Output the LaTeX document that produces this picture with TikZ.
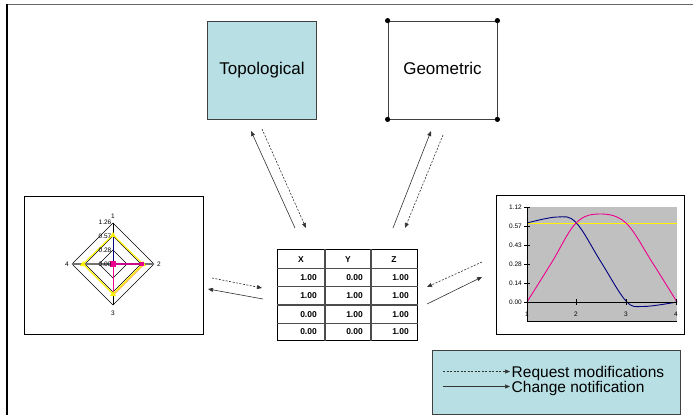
\documentclass[tikz,border=0pt]{standalone}
\usepackage{fontspec}
\setmainfont{Liberation Sans}
\usetikzlibrary{positioning, arrows.meta}
\definecolor{paleteal}{RGB}{184,223,227}
\definecolor{plotgray}{RGB}{192,192,192}
\definecolor{navyblue}{RGB}{0,0,128}
\definecolor{chartorange}{RGB}{255,153,0}

\begin{document}
\begin{tikzpicture}[x=1pt, y=-1pt,
		box/.style={draw=black!75, line width=0.8pt, inner sep=0pt},
		bigtext/.style={font=\fontsize{17}{20}\selectfont},
		keytext/.style={font=\fontsize{15.5}{17}\selectfont, anchor=base west, inner sep=0.5pt, text height=10.5pt, text depth=2pt},
		notify/.style={-{Triangle[length=5pt,width=4pt]}, black!80, line width=0.6pt},
		request/.style={notify, dash pattern=on 2pt off 1.5pt},
		cell/.style={font=\fontsize{8.5}{10}\selectfont\bfseries, inner sep=0pt},
		tick/.style={font=\fontsize{6.5}{8}\selectfont, inner sep=1pt}]
		\useasboundingbox (0,0) rectangle (693,415);
		% page frame
		\draw[black!60, line width=1.2pt] (7,4.5) -- (693,4.5);
		\draw[black, line width=1.2pt] (7,4) -- (7,415);

		% Nodes
		\node (topo) [box, bigtext, fill=paleteal, minimum width=109pt, minimum height=98pt] at (262,70) {Topological};
		\node (geom) [box, bigtext, fill=white, minimum width=109pt, minimum height=98pt, text depth=4pt] at (442.5,70) {Geometric};
		\foreach \c in {north west, north east, south west, south east}
			\fill (geom.\c) circle (2.6pt);
		\node (radar) [box, draw=black, minimum width=179pt, minimum height=138pt] at (113.5,265) {};
		\node (curves) [box, draw=black, minimum width=188pt, minimum height=139pt] at (590,264.5) {};
		\node (tbl) [draw, line width=1pt, minimum width=140pt, minimum height=90.7pt, inner sep=0pt] at (347.3,295.3) {};
		\node (legend) [box, fill=paleteal, minimum width=248pt, minimum height=64pt] at (556.5,382) {};

		% radar chart
		\begin{scope}[shift={(113,264)}]
			\foreach \r in {14,28,41}
				\draw[black, line width=0.6pt] (0,-\r) -- (\r,0) -- (0,\r) -- (-\r,0) -- cycle;
			\draw[black!55, line width=1.4pt] (-41,0) -- (41,0);
			\draw[black, line width=0.6pt] (0,-41) -- (0,41);
			\draw[yellow, line width=1.1pt] (0,-29) -- (30,0) -- (0,30) -- (-30,0) -- cycle;
			\draw[chartorange, line width=0.6pt] (31.5,0) -- (0,31.5);
			\draw[navyblue, line width=1pt] (0,0) -- (0,-28);
			\draw[magenta!80!blue, line width=1.6pt] (0,0) -- (29,0);
			\draw[magenta, line width=1pt] (0,0) -- (0,29);
			\foreach \px/\py in {0/-29, 30/0, 0/30, -30/0}
				\fill[yellow] (\px,\py) ++(0,-3) -- ++(3,5) -- ++(-6,0) -- cycle;
			\fill[magenta] (-3,-3) rectangle (3,3);
			\fill[magenta] (27,-2) rectangle (31,2);
			\node (ax1) [tick] at (0,-48) {1};
			\node (ax2) [tick] at (46,0) {2};
			\node (ax3) [tick] at (0,49) {3};
			\node (ax4) [tick] at (-46,0) {4};
			\foreach \v/\py in {1.26/-42, 0.57/-28, 0.28/-14, 0.00/0}
				\node (val\v) [tick, anchor=east, inner sep=0.5pt] at (-1,\py) {\v};
		\end{scope}

		% table
		\foreach \ry in {268.3, 286.7, 305, 323.3}
			\draw[black!70, line width=1.4pt] (tbl.west |- 0,\ry) -- (tbl.east |- 0,\ry);
		\foreach \cx in {325, 371}
			\draw[black!70, line width=1.4pt] (\cx,0 |- tbl.north) -- (\cx,0 |- tbl.south);
		\node (hx) [cell] at (301,259.5) {X};
		\node (hy) [cell] at (348,259.5) {Y};
		\node (hz) [cell] at (394,259.5) {Z};
		\foreach \i/\a/\b/\c/\ry in {1/1.00/0.00/1.00/277.5, 2/1.00/1.00/1.00/296, 3/0.00/1.00/1.00/314.3, 4/0.00/0.00/1.00/332}{
			\node (ca\i) [cell, anchor=east] at (317,\ry) {\a};
			\node (cb\i) [cell, anchor=east] at (363,\ry) {\b};
			\node (cc\i) [cell, anchor=east] at (409,\ry) {\c};
		}

		% line chart
		\fill[plotgray] (527,207) rectangle (677,321);
		\draw[black, line width=0.6pt] (527,321) -- (677,321);
		\draw[yellow, line width=0.8pt] (527,223.3) -- (677,223.3);
		\draw[navyblue, line width=0.9pt] plot[smooth, tension=0.6] coordinates
			{(527,223) (557,217) (576,222.5) (601,262) (626,301) (643,306.5) (677,302)};
		\draw[magenta, line width=0.9pt] plot[smooth, tension=0.6] coordinates
			{(527,302) (552,262) (576,223) (600,214) (626,223) (652,262) (677,302)};
		\draw[black, line width=1pt] (527,207) -- (527,321);
		\draw[black, line width=1pt] (527,302) -- (677,302);
		\foreach \v/\ty in {1.12/207.3, 0.57/226.7, 0.43/245.7, 0.28/264.3, 0.14/283.3, 0.00/302.3}{
			\draw[black, line width=0.8pt] (524,\ty) -- (530,\ty);
			\node (yl\v) [tick, anchor=east] at (523,\ty) {\v};
		}
		\foreach \n/\tx in {1/527, 2/576, 3/626, 4/676}{
			\draw[black, line width=0.8pt] (\tx,299) -- (\tx,305);
			\node (xl\n) [tick] at (\tx,314) {\n};
		}

		% arrow ends
		\coordinate (topoA) at (295,228);
		\coordinate (topoB) at (251,131);
		\coordinate (topoC) at (262,129);
		\coordinate (topoD) at (306,228);
		\coordinate (geomA) at (393,228);
		\coordinate (geomB) at (431,131);
		\coordinate (geomC) at (443,135);
		\coordinate (geomD) at (405,228);
		\coordinate (radarA) at (212,278);
		\coordinate (radarB) at (262,288);
		\coordinate (radarC) at (263,299);
		\coordinate (radarD) at (208,289);
		\coordinate (curvesA) at (482,262);
		\coordinate (curvesB) at (427,287);
		\coordinate (curvesC) at (427,304);
		\coordinate (curvesD) at (482,277);
		\coordinate (keyA) at (443,371.5);
		\coordinate (keyB) at (510,371.5);
		\coordinate (keyC) at (443,386.5);
		\coordinate (keyD) at (510,386.5);

		% Arrows
		\draw[notify] (topoA) -- (topoB);
		\draw[request] (topoC) -- (topoD);
		\draw[notify] (geomA) -- (geomB);
		\draw[request] (geomC) -- (geomD);
		\draw[request] (radarA) -- (radarB);
		\draw[notify] (radarC) -- (radarD);
		\draw[request] (curvesA) -- (curvesB);
		\draw[notify] (curvesC) -- (curvesD);

		% legend
		\draw[request] (keyA) -- (keyB);
		\draw[notify] (keyC) -- (keyD);
		\node (keyreq) [keytext] at (511,377) {Request modifications};
		\node (keychg) [keytext] at (511,392) {Change notification};
	\end{tikzpicture}
\end{document}
